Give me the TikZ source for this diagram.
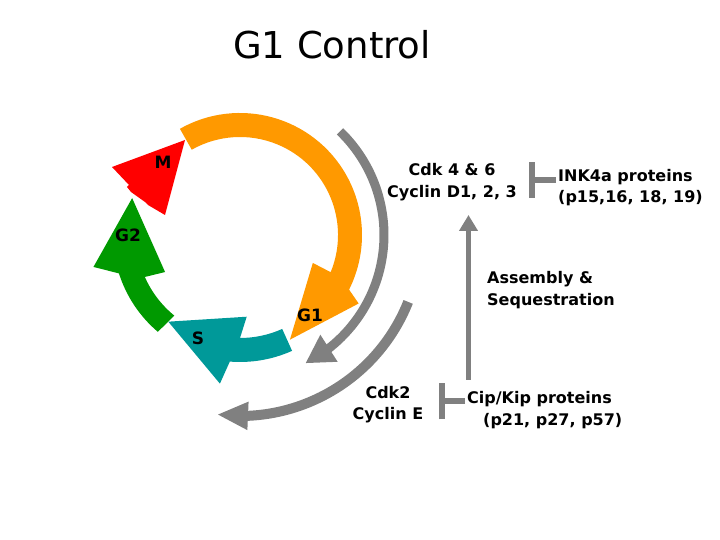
\documentclass[tikz,border=0pt]{standalone}
\usepackage{fontspec}
\setmainfont{DejaVu Sans}
\usetikzlibrary{arrows.meta,bending}

\definecolor{phaseorange}{RGB}{255,153,0}
\definecolor{phasered}{RGB}{255,0,0}
\definecolor{phasegreen}{RGB}{0,153,0}
\definecolor{phaseteal}{RGB}{0,153,153}
\definecolor{ctrlgray}{RGB}{128,128,128}

\tikzset{
  phaselabel/.style={font=\bfseries\fontsize{17}{17}\selectfont},
  ctrltext/.style={font=\bfseries\fontsize{16}{21.5}\selectfont, inner sep=2pt},
  inhib/.style={ctrlgray, line width=6pt, -{Bar[width=36pt]}},
  riseline/.style={ctrlgray, line width=5pt, -{Triangle[length=16pt,width=18pt]}},
}

\begin{document}
\begin{tikzpicture}[x=1pt,y=1pt]
\useasboundingbox (0,0) rectangle (720,540);

\node (title) at (332,495) {\fontsize{37}{37}\selectfont G1 Control};

% the cycle, centred on the ring
\begin{scope}[shift={(240,305)}]
  % G1 (orange)
  \fill[phaseorange] (119.5:122) arc[start angle=119.5, end angle=-26.6, radius=122]
    -- (-30:137) -- (-64.5:116) -- (-21:78) -- (-22.3:98)
    arc[start angle=-22.3, end angle=119.5, radius=98] -- cycle;
  % S (teal)
  \fill[phaseteal] (-65.8:103) -- (-65.8:127)
    arc[start angle=-65.8, end angle=-94.6, radius=127]
    -- (-97.7:150) -- (-129.6:112.5) -- (-85.3:82) -- (-90:103)
    arc[start angle=-90, end angle=-65.8, radius=103] -- cycle;
  % G2 (green)
  \fill[phasegreen] (229.7:127) arc[start angle=229.7, end angle=197.6, radius=127]
    -- (192.3:150) -- (161.1:114) -- (206.3:83.6) -- (203.8:104)
    arc[start angle=203.8, end angle=230.8, radius=104] -- cycle;

  % grey arcs outside the ring
  \draw[ctrlgray, line width=9pt, -{Triangle[length=28pt,width=30pt]}]
    (46:144) arc[start angle=46, end angle=-63, radius=144];
  \draw[ctrlgray, line width=10pt, -{Triangle[length=31pt,width=26pt]}]
    (-21.7:181) arc[start angle=-21.7, end angle=-97.3, radius=181];
\end{scope}

% M (red)
\fill[phasered] (112,373) -- (185,400) -- (165,325) -- (148,335) -- (145,338)
  -- (131,348) -- (127,353) -- (129,355) -- cycle;

\node[phaselabel] (labM) at (163,378) {M};
\node[phaselabel] (labGtwo) at (128,305) {G2};
\node[phaselabel] (labGone) at (310,225) {G1};
\node[phaselabel] (labS) at (198,202) {S};

% controls
\node[ctrltext, align=center] (cdkD) at (452,358) {Cdk 4 \& 6\\Cyclin D1, 2, 3};
\node[ctrltext, align=left, anchor=west] (ink) at (556,352.5) {INK4a proteins\\(p15,16, 18, 19)};
\node[ctrltext, align=left, anchor=west] (asm) at (485,250) {Assembly \&\\Sequestration};
\node[ctrltext, align=center] (cdkE) at (388,135.5) {Cdk2\\Cyclin E};
\node[ctrltext, align=left, anchor=west] (cipkip) at (465,130) {Cip/Kip proteins\\\hspace*{16pt}(p21, p27, p57)};

\coordinate (inkbar) at (529,360);
\coordinate (cipbar) at (438.5,138.5);
\coordinate (asmfoot) at (468.5,160);
\coordinate (asmhead) at (468.5,325);

\draw[inhib] (inkbar -| ink.west) -- (inkbar);
\draw[inhib] (cipbar -| cipkip.west) -- (cipbar);
\draw[riseline] (asmfoot) -- (asmhead);
\end{tikzpicture}
\end{document}
